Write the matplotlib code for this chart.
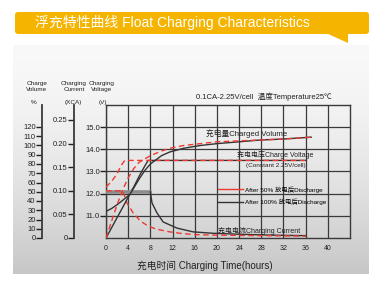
import numpy as np
import matplotlib
matplotlib.use('Agg')
import matplotlib.pyplot as plt
from matplotlib.patches import FancyBboxPatch, Polygon
from matplotlib.lines import Line2D

plt.rcParams['font.family'] = ['Liberation Sans', 'Noto Sans CJK SC', 'DejaVu Sans']

# ---------------- data ----------------
hour_ticks = [0, 4, 8, 12, 16, 20, 24, 28, 32, 36, 40]
volt_ticks = [11.0, 12.0, 13.0, 14.0, 15.0]
volt_labels = ['11.0', '12.0', '13.0', '14.0', '15.0']
curr_ticks = [0, 0.05, 0.10, 0.15, 0.20, 0.25]
curr_labels = ['0', '0.05', '0.10', '0.15', '0.20', '0.25']
vol_ticks = [0, 10, 20, 30, 40, 50, 60, 70, 80, 90, 100, 110, 120]

# charged volume (%)
t_vol_100 = [0, 2, 4, 6, 7, 8, 10, 11.5, 14, 17, 20, 22, 24, 28, 32, 37]
vol_100 = [0, 22, 44, 64, 73, 80, 89, 93, 97, 100, 102, 103, 104, 106, 107, 109]
t_vol_50 = [0, 1, 2, 3, 4, 5, 6, 8, 10, 11.5, 14, 17, 20, 24, 28, 32, 37]
vol_50 = [0, 18, 36, 52, 65, 75, 82, 89, 94, 97, 100, 102, 104, 105, 106, 107, 109]

# charging voltage (V)
t_v100 = [0, 1, 2, 3, 4, 5, 6, 7, 7.6, 36]
v100 = [11.2, 11.33, 11.5, 11.7, 11.9, 12.3, 12.8, 13.25, 13.5, 13.5]
t_v50 = [0, 1, 2, 2.8, 3.4, 36]
v50 = [12.3, 12.55, 12.9, 13.3, 13.5, 13.5]

# charging current (xCA)
t_c100 = [0, 8, 8.3, 9.2, 10.3, 12.8, 15.7, 19.3, 24, 30, 36]
c100 = [0.098, 0.098, 0.074, 0.053, 0.034, 0.021, 0.013, 0.010, 0.008, 0.006, 0.005]
t_c50 = [0, 3, 3.8, 4.9, 6.2, 7.5, 9, 11.5, 14, 16.5, 20, 28, 36]
c50 = [0.1, 0.1, 0.074, 0.053, 0.036, 0.026, 0.019, 0.013, 0.009, 0.007, 0.006, 0.005, 0.004]

RED = '#ec3a32'
BLK = '#333333'
GRID = '#3a3a3a'
YEL = '#f5b400'

W, H = 386, 290
fig = plt.figure(figsize=(W / 100, H / 100), dpi=100)

def fx(x):
    return x / W

def fy(y):
    return 1 - y / H

# background
bg = fig.add_axes([0, 0, 1, 1], zorder=-5)
bg.set_xlim(0, W)
bg.set_ylim(H, 0)
bg.axis('off')
g = np.linspace(0, 1, 256) ** 1.6
top, bot = 0.975, 0.78
vals = top + (bot - top) * g
img = np.dstack([vals, vals, vals])[:, None, :].reshape(256, 1, 3)
bg.imshow(img, extent=[13, 369, 274, 45], aspect='auto', interpolation='bilinear')
bg.add_patch(FancyBboxPatch((15, 12), 354, 22, boxstyle='round,pad=0,rounding_size=3',
                            fc=YEL, ec='none'))
bg.add_patch(Polygon([(326, 33), (348, 33), (348, 43)], closed=True, fc=YEL, ec='none'))
bg.set_xlim(0, W)
bg.set_ylim(H, 0)

fig.text(fx(35), fy(23), '浮充特性曲线 Float Charging Characteristics', color='white',
         fontsize=10, ha='left', va='center')

# main axes (voltage)
L, R, T, B = 106, 350, 105, 238
pos = [fx(L), fy(B), (R - L) / W, (B - T) / H]
ax = fig.add_axes(pos)
ax.patch.set_alpha(0)
ax.set_xlim(0, 44)
ax.set_ylim(10, 16)
ax.set_xticks(hour_ticks)
ax.set_yticks(volt_ticks, labels=volt_labels)
ax.tick_params(axis='x', length=0, pad=5, labelsize=5, colors='#222')
ax.tick_params(axis='y', length=4, width=1, direction='out', pad=0.5, labelsize=5.5,
               colors='#222')
ax.grid(True, color=GRID, lw=0.9)
for s in ax.spines.values():
    s.set_color(GRID)
    s.set_linewidth(1.0)

ax.plot(t_v100, v100, color=BLK, lw=1.0, zorder=3)
ax.plot(t_v50, v50, color=RED, lw=1.0, ls=(0, (4, 2.5)), zorder=4)

# current axis
axc = ax.twinx()
axc.patch.set_alpha(0)
axc.set_ylim(0, (B - T) / 472.0)
for k in ['right', 'top', 'bottom']:
    axc.spines[k].set_visible(False)
axc.spines['left'].set_position(('axes', -(L - 74) / (R - L)))
axc.spines['left'].set_color(GRID)
axc.spines['left'].set_linewidth(1.3)
axc.yaxis.set_ticks_position('left')
axc.set_yticks(curr_ticks, labels=curr_labels)
axc.tick_params(axis='y', length=4, width=1, direction='out', pad=0.5, labelsize=5.5,
                colors='#222')
axc.plot(t_c100[:2], c100[:2], color='#8c8c8c', lw=2.6, zorder=2)
axc.plot(t_c100[1:], c100[1:], color=BLK, lw=1.0, zorder=3)
axc.plot(t_c50, c50, color=RED, lw=1.0, ls=(0, (4, 2.5)), zorder=4)

# volume axis
axv = ax.twinx()
axv.patch.set_alpha(0)
axv.set_ylim(0, (B - T) / 0.925)
for k in ['right', 'top', 'bottom']:
    axv.spines[k].set_visible(False)
axv.spines['left'].set_position(('axes', -(L - 42) / (R - L)))
axv.spines['left'].set_color(GRID)
axv.spines['left'].set_linewidth(1.3)
axv.yaxis.set_ticks_position('left')
axv.set_yticks(vol_ticks)
axv.tick_params(axis='y', length=4, width=1, direction='out', pad=0.5, labelsize=5.5,
                colors='#222')
axv.plot(t_vol_100, vol_100, color=BLK, lw=1.0, zorder=3)
axv.plot(t_vol_50, vol_50, color=RED, lw=1.0, ls=(0, (4, 2.5)), zorder=4)

# axis headers
hdr = dict(fontsize=4.6, ha='center', va='center', color='#222', linespacing=1.25)
fig.text(fx(37), fy(86.5), 'Charge\nVolume', **hdr)
fig.text(fx(74), fy(86.5), 'Charging\nCurrent', **hdr)
fig.text(fx(102), fy(86.5), 'Charging\nVoltage', **hdr)
fig.text(fx(34), fy(103), '%', **hdr)
fig.text(fx(73), fy(103), '(XCA)', **hdr)
fig.text(fx(103), fy(103), '(V)', **hdr)

fig.text(fx(196), fy(97), '0.1CA-2.25V/cell  温度Temperature25℃', fontsize=5.5,
         ha='left', va='center', color='#222')
fig.text(fx(206), fy(133), '充电量Charged Volume', fontsize=5.6, ha='left', va='center',
         color='#222')
fig.text(fx(237), fy(155), '充电电压Charge Voltage', fontsize=5.0, ha='left', va='center',
         color='#222')
fig.text(fx(246), fy(165), '(Constant 2.25V/cell)', fontsize=4.6, ha='left', va='center',
         color='#222')
fig.text(fx(218), fy(231), '充电电流Charging Current', fontsize=5.0, ha='left', va='center',
         color='#222')
fig.text(fx(137), fy(266), '充电时间 Charging Time(hours)', fontsize=7, ha='left',
         va='center', color='#222')

handles = [Line2D([], [], color=RED, lw=1.0), Line2D([], [], color=BLK, lw=1.0)]
ax.legend(handles, ['After 50% 放电后Discharge', 'After 100% 放电后Discharge'],
          loc='center left', bbox_to_anchor=(fx(218), fy(195.5)),
          bbox_transform=fig.transFigure, frameon=False, fontsize=4.6,
          handlelength=3.9, handletextpad=0.3, labelspacing=0.9, borderpad=0,
          borderaxespad=0)

fig.savefig('out.png', dpi=100)
